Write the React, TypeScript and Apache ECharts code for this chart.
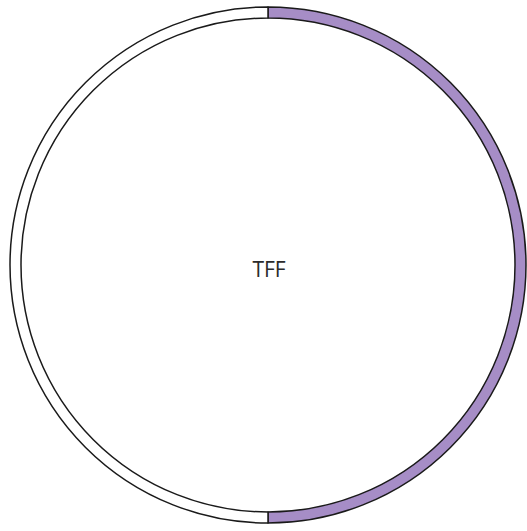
import React, { useEffect, useRef } from "react";
import * as echarts from "echarts";

const categories = ["TFF", "Other"];
const values = [50, 50];
const colors = ["#a68dc6", "#ffffff"];
const centerLabel = "TFF";

export default function App() {
  const ref = useRef<HTMLDivElement>(null);
  useEffect(() => {
    if (!ref.current) return;
    const chart = echarts.init(ref.current, undefined, { renderer: "svg" });
    chart.setOption({
      animation: false,
      backgroundColor: "#ffffff",
      graphic: [
        {
          type: "text",
          x: 269,
          y: 269,
          style: {
            text: centerLabel,
            fontFamily: "Open Sans",
            fontSize: 21,
            fill: "#2b2b2b",
            align: "center",
            verticalAlign: "middle",
          },
        },
      ],
      series: [
        {
          type: "pie",
          center: [268, 265],
          radius: [247, 258],
          startAngle: 90,
          clockwise: true,
          silent: true,
          label: { show: false },
          labelLine: { show: false },
          itemStyle: { borderColor: "#1a1a1a", borderWidth: 1.5 },
          data: categories.map((c, i) => ({
            name: c,
            value: values[i],
            itemStyle: { color: colors[i] },
          })),
        },
      ],
    });
    return () => chart.dispose();
  }, []);
  return (
    <div
      ref={ref}
      style={{ position: "fixed", left: 0, top: 0, width: 527, height: 531 }}
    />
  );
}
